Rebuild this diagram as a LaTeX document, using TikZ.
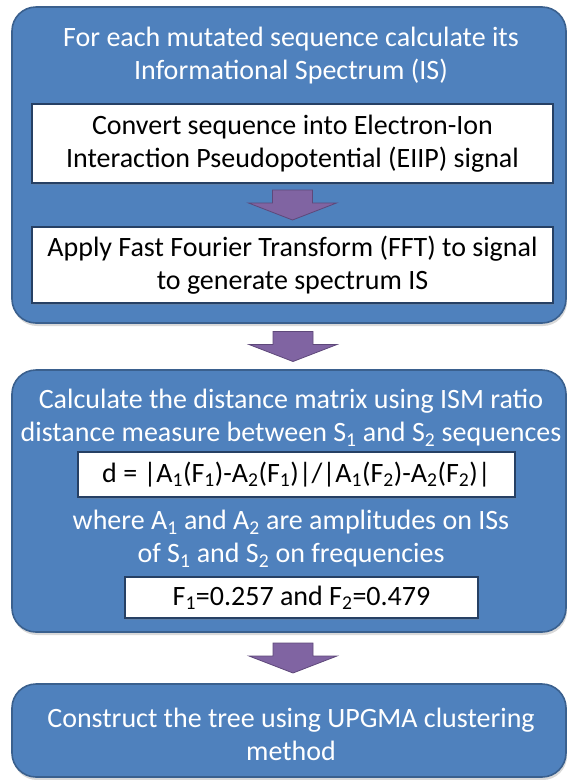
\documentclass[tikz,border=0pt]{standalone}
\usepackage{fontspec}
\setmainfont{Carlito}
\usetikzlibrary{calc, shadows}
\definecolor{boxblue}{RGB}{79,129,189}
\definecolor{boxedge}{RGB}{58,96,142}
\definecolor{inedge}{RGB}{38,64,100}
\definecolor{arrowfill}{RGB}{128,100,162}
\definecolor{arrowedge}{RGB}{94,72,122}

\begin{document}
\begin{tikzpicture}[x=1pt, y=-1pt,
  stage/.style={draw=boxedge, line width=1.6pt, fill=boxblue, rounded corners=24pt, inner sep=0pt,
    drop shadow={opacity=0.3, shadow xshift=1pt, shadow yshift=-3pt}},
  inbox/.style={draw=inedge, line width=1.8pt, fill=white, inner sep=0pt, align=center,
    font=\fontsize{28}{33}\selectfont, drop shadow={opacity=0.3, shadow xshift=1pt, shadow yshift=-2pt}},
  wtext/.style={text=white, align=center, inner sep=0pt, font=\fontsize{28}{33}\selectfont},
  flowarrow/.pic={\draw[draw=arrowedge, fill=arrowfill, line width=0.8pt]
    (-20,-15) -- (20,-15) -- (20,-2) -- (44,-2) -- (0,15) -- (-44,-2) -- (-20,-2) -- cycle;}]
  \useasboundingbox (0,0) rectangle (567,780);
  % first stage
  \node[stage, minimum width=554pt, minimum height=316pt] (spec) at (289,165) {};
  \node[wtext] (spectitle) at (291,56) {For each mutated sequence calculate its\\Informational Spectrum (IS)};
  \node[inbox, minimum width=521pt, minimum height=79pt] (eiip) at (292.5,143.5) {Convert sequence into Electron-Ion\\Interaction Pseudopotential (EIIP) signal};
  \node[inbox, minimum width=521pt, minimum height=76pt] (fft) at (292.5,265) {Apply Fast Fourier Transform (FFT) to signal\\to generate spectrum IS};
  \pic at ($(eiip.south)!0.5!(fft.north)$) {flowarrow};
  % second stage
  \node[stage, minimum width=554pt, minimum height=262pt] (dist) at (289,501) {};
  \node[wtext] (disttitle) at (291,418) {Calculate the distance matrix using ISM ratio\\distance measure between S\textsubscript{1} and S\textsubscript{2} sequences};
  \node[inbox, minimum width=437pt, minimum height=45pt] (formula) at (296.5,474.5) {d = |A\textsubscript{1}(F\textsubscript{1})-A\textsubscript{2}(F\textsubscript{1})|/|A\textsubscript{1}(F\textsubscript{2})-A\textsubscript{2}(F\textsubscript{2})|};
  \node[wtext] (amps) at (291,539) {where A\textsubscript{1} and A\textsubscript{2} are amplitudes on ISs\\of S\textsubscript{1} and S\textsubscript{2} on frequencies};
  \node[inbox, minimum width=353pt, minimum height=41pt] (freq) at (301.5,597.5) {F\textsubscript{1}=0.257 and F\textsubscript{2}=0.479};
  % third stage
  \node[stage, minimum width=554pt, minimum height=93pt] (upgma) at (289,730.5) {};
  \node[wtext] (upgmatext) at (291,734) {Construct the tree using UPGMA clustering\\method};
  \pic[xshift=4pt] at ($(spec.south)!0.5!(dist.north)$) {flowarrow};
  \pic[xshift=4pt] at ($(dist.south)!0.5!(upgma.north)$) {flowarrow};
\end{tikzpicture}
\end{document}
